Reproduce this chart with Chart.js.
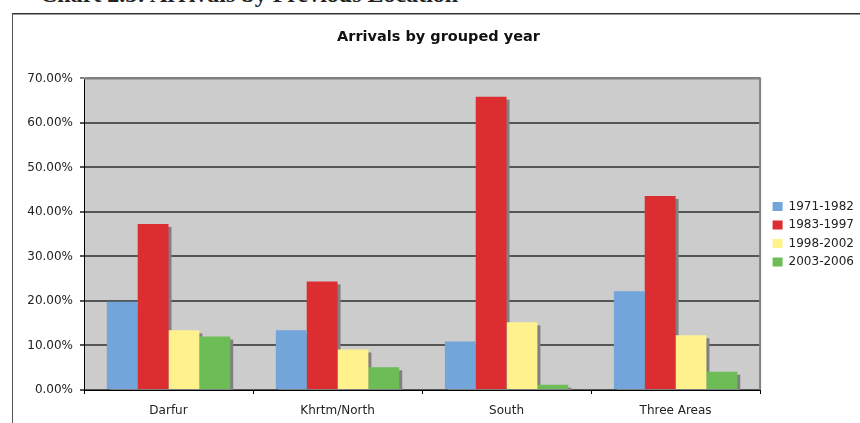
<!DOCTYPE html>
<html><head><meta charset="utf-8">
<script src="https://cdn.jsdelivr.net/npm/chart.js@4.4.1/dist/chart.umd.min.js"></script>
<style>
html,body{margin:0;padding:0;background:#fff;width:860px;height:423px;overflow:hidden;position:relative;}
#hdr{position:absolute;left:40px;top:-18px;font:bold 24px "Liberation Serif",serif;line-height:24px;color:#222;white-space:nowrap;}
#frame{position:absolute;left:12px;top:13px;width:900px;height:500px;border-left:1px solid #555;border-top:1px solid #333;box-shadow:inset 0 1px 0 #999;}
#wrap{position:absolute;left:13px;top:14px;width:847px;height:409px;}
</style></head><body>
<div id="hdr">Chart 2.5: Arrivals by Previous Location</div>
<div id="frame"></div>
<div id="wrap"><canvas id="c"></canvas></div>
<script>
const categories = ['Darfur', 'Khrtm/North', 'South', 'Three Areas'];
const seriesLabels = ['1971-1982', '1983-1997', '1998-2002', '2003-2006'];
const s1971_1982 = [19.8, 13.4, 10.9, 22.2];
const s1983_1997 = [37.3, 24.4, 65.9, 43.6];
const s1998_2002 = [13.4, 9.1, 15.2, 12.3];
const s2003_2006 = [12.0, 5.1, 1.2, 4.1];
const yMin = 0, yMax = 70, yStep = 10;

const colors = ['#72A5D9', '#DC2E31', '#FFF28E', '#6CBD55'];
const seriesValues = [s1971_1982, s1983_1997, s1998_2002, s2003_2006];
const FONT = 'DejaVu Sans';

const shadowPlugin = {
  id: 'barShadow',
  beforeDatasetsDraw(chart) {
    const ctx = chart.ctx, a = chart.chartArea;
    ctx.save();
    ctx.beginPath(); ctx.rect(a.left, a.top, a.right - a.left, a.bottom - a.top); ctx.clip();
    ctx.fillStyle = '#808080';
    chart.data.datasets.forEach((ds, i) => {
      const meta = chart.getDatasetMeta(i);
      meta.data.forEach(bar => {
        const w = bar.width;
        ctx.fillRect(bar.x - w / 2 + 3, bar.y + 3, w, bar.base - bar.y);
      });
    });
    ctx.restore();
  }
};
const bgPlugin = {
  id: 'plotBg',
  beforeDraw(chart) {
    const ctx = chart.ctx, a = chart.chartArea;
    ctx.save();
    ctx.fillStyle = '#CCCCCC';
    ctx.fillRect(a.left, a.top, a.right - a.left, a.bottom - a.top);
    ctx.restore();
  },
  afterDatasetsDraw(chart) {
    const ctx = chart.ctx, a = chart.chartArea;
    ctx.save();
    ctx.strokeStyle = '#808080'; ctx.lineWidth = 2;
    ctx.beginPath();
    ctx.moveTo(a.left, a.top); ctx.lineTo(a.right, a.top); ctx.lineTo(a.right, a.bottom);
    ctx.stroke();
    ctx.restore();
  }
};

new Chart(document.getElementById('c'), {
  type: 'bar',
  data: {
    labels: categories,
    datasets: seriesLabels.map((l, i) => ({
      label: l, data: seriesValues[i], backgroundColor: colors[i], borderWidth: 0,
      categoryPercentage: 0.73, barPercentage: 1.0
    }))
  },
  options: {
    responsive: true, maintainAspectRatio: false, animation: false, devicePixelRatio: 1,
    layout: { padding: { left: 0, right: -4, top: 0, bottom: 0 } },
    plugins: {
      title: { display: true, text: 'Arrivals by grouped year', color: '#111',
        font: { family: FONT, size: 14.5, weight: 'bold' }, padding: { top: 15, bottom: 32 } },
      legend: { position: 'right', align: 'center', fullSize: false,
        labels: { boxWidth: 10, boxHeight: 9, padding: 6.5, color: '#222', font: { family: FONT, size: 12 } } },
      tooltip: { enabled: false }
    },
    scales: {
      x: {
        grid: { offset: true, drawOnChartArea: false, tickLength: 4, color: '#000' },
        border: { color: '#000' },
        ticks: { color: '#222', padding: 10, font: { family: FONT, size: 12 } },
        afterFit: s => { s.height = 33; }
      },
      y: {
        min: yMin, max: yMax,
        ticks: { stepSize: yStep, padding: 7, color: '#222', font: { family: FONT, size: 12 },
          callback: v => v.toFixed(2) + '%' },
        grid: { tickLength: 4, lineWidth: 2, color: c => (c.tick && c.tick.value === yMax) ? '#808080' : '#555' },
        border: { color: '#000' },
        afterFit: s => { s.width = 71; }
      },
      yR: {
        type: 'linear', position: 'right', display: true,
        grid: { display: false }, ticks: { display: false }, border: { display: false },
        afterFit: s => { s.width = 6; }
      }
    }
  },
  plugins: [bgPlugin, shadowPlugin]
});
</script>
</body></html>
